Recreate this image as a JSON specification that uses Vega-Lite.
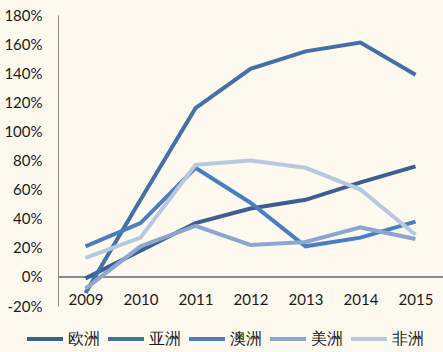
{
  "$schema": "https://vega.github.io/schema/vega-lite/v6.json",
  "autosize": {"type": "none"},
  "width": 385,
  "height": 291,
  "padding": {"left": 58, "top": 15, "right": 0, "bottom": 46},
  "background": "#FDF9EF",
  "config": {
    "view": {"stroke": null},
    "font": "Lato",
    "axis": {"labelFont": "Lato", "labelFontSize": 15, "labelColor": "#1a1a1a", "labelOverlap": false},
    "legend": {"labelFont": "Lato", "labelFontSize": 16, "labelColor": "#1a1a1a"}
  },
  "data": {
    "values": [
      {"year": "2009", "region": "欧洲", "v": -1}, {"year": "2010", "region": "欧洲", "v": 18}, {"year": "2011", "region": "欧洲", "v": 37}, {"year": "2012", "region": "欧洲", "v": 47}, {"year": "2013", "region": "欧洲", "v": 53}, {"year": "2014", "region": "欧洲", "v": 65}, {"year": "2015", "region": "欧洲", "v": 76},
      {"year": "2009", "region": "亚洲", "v": -11}, {"year": "2010", "region": "亚洲", "v": 53}, {"year": "2011", "region": "亚洲", "v": 116}, {"year": "2012", "region": "亚洲", "v": 143}, {"year": "2013", "region": "亚洲", "v": 155}, {"year": "2014", "region": "亚洲", "v": 161}, {"year": "2015", "region": "亚洲", "v": 139},
      {"year": "2009", "region": "澳洲", "v": 21}, {"year": "2010", "region": "澳洲", "v": 37}, {"year": "2011", "region": "澳洲", "v": 75}, {"year": "2012", "region": "澳洲", "v": 51}, {"year": "2013", "region": "澳洲", "v": 21}, {"year": "2014", "region": "澳洲", "v": 27}, {"year": "2015", "region": "澳洲", "v": 38},
      {"year": "2009", "region": "美洲", "v": -8}, {"year": "2010", "region": "美洲", "v": 21}, {"year": "2011", "region": "美洲", "v": 35}, {"year": "2012", "region": "美洲", "v": 22}, {"year": "2013", "region": "美洲", "v": 24}, {"year": "2014", "region": "美洲", "v": 34}, {"year": "2015", "region": "美洲", "v": 26},
      {"year": "2009", "region": "非洲", "v": 13}, {"year": "2010", "region": "非洲", "v": 27}, {"year": "2011", "region": "非洲", "v": 77}, {"year": "2012", "region": "非洲", "v": 80}, {"year": "2013", "region": "非洲", "v": 75}, {"year": "2014", "region": "非洲", "v": 60}, {"year": "2015", "region": "非洲", "v": 29}
    ]
  },
  "layer": [
    {
      "mark": {"type": "rule", "color": "#8a8a8a", "strokeWidth": 1},
      "encoding": {"y": {"datum": 0, "type": "quantitative", "scale": {"domain": [-20, 180], "nice": false}, "axis": {"title": null, "grid": false, "ticks": false, "domainColor": "#8a8a8a", "values": [-20, 0, 20, 40, 60, 80, 100, 120, 140, 160, 180], "labelExpr": "datum.value + '%'", "labelPadding": 16, "labelOverlap": false, "labelFlush": false}}}
    },
    {
      "mark": {"type": "line", "strokeWidth": 4, "strokeJoin": "miter", "strokeCap": "butt"},
      "encoding": {
        "x": {
          "field": "year", "type": "ordinal",
          "scale": {"type": "point", "padding": 0.5},
          "axis": {"title": null, "domain": false, "ticks": false, "labelAngle": 0, "offset": -14, "labelPadding": 0, "labelBaseline": "top"}
        },
        "y": {
          "field": "v", "type": "quantitative",
          "scale": {"domain": [-20, 180], "nice": false},
          "axis": {"title": null, "grid": false, "ticks": false, "domainColor": "#8a8a8a", "values": [-20, 0, 20, 40, 60, 80, 100, 120, 140, 160, 180], "labelExpr": "datum.value + '%'", "labelPadding": 16, "labelOverlap": false, "labelFlush": false}
        },
        "color": {
          "field": "region", "type": "nominal",
          "sort": ["欧洲", "亚洲", "澳洲", "美洲", "非洲"],
          "scale": {"domain": ["欧洲", "亚洲", "澳洲", "美洲", "非洲"], "range": ["#3C5E91", "#4470A8", "#4A7FBF", "#8CA6D0", "#B9C8E1"]},
          "legend": {"title": null, "orient": "none", "direction": "horizontal", "legendX": -33, "legendY": 304, "symbolType": "stroke", "symbolSize": 1296, "symbolStrokeWidth": 4, "labelOffset": 3, "columnPadding": 0, "padding": 0}
        }
      }
    }
  ]
}
